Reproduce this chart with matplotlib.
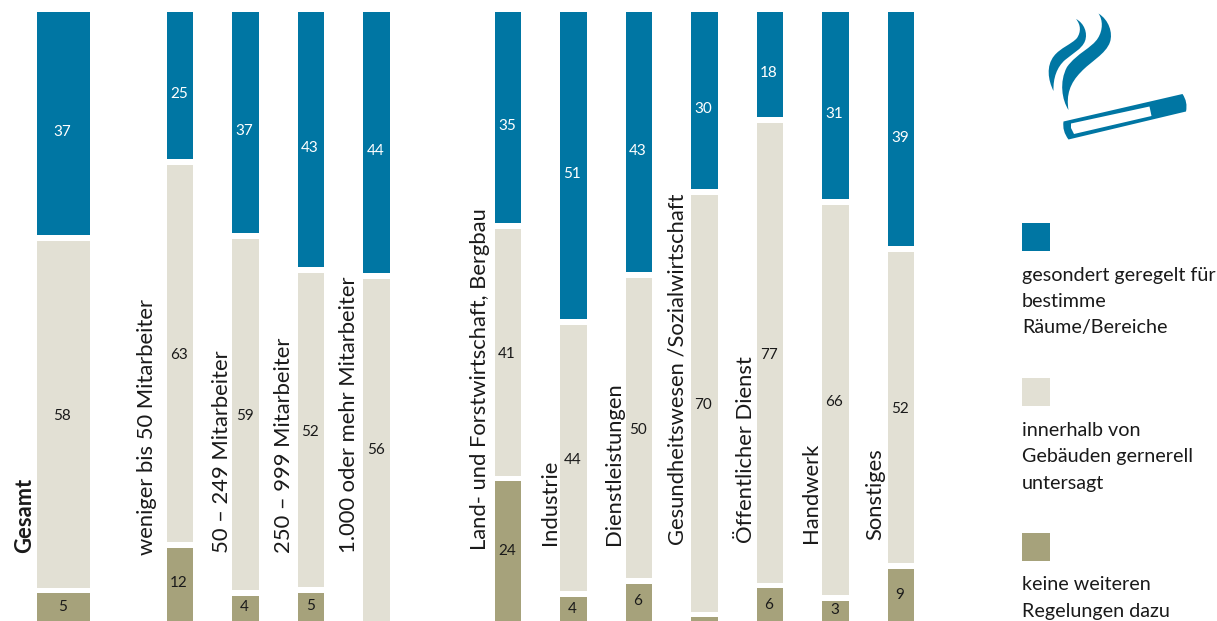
import matplotlib
matplotlib.use("Agg")
import matplotlib.pyplot as plt
from matplotlib.patches import PathPatch, Rectangle
from matplotlib.path import Path

plt.rcParams['font.family'] = ['Lato', 'DejaVu Sans']

categories = ["Gesamt", "weniger bis 50 Mitarbeiter", "50 – 249 Mitarbeiter", "250 – 999 Mitarbeiter",
              "1.000 oder mehr Mitarbeiter", "Land- und Forstwirtschaft, Bergbau", "Industrie",
              "Dienstleistungen", "Gesundheitswesen /Sozialwirtschaft", "Öffentlicher Dienst",
              "Handwerk", "Sonstiges"]

# printed numbers
gesondert_text = [37, 25, 37, 43, 44, 35, 51, 43, 30, 18, 31, 39]
untersagt_text = [58, 63, 59, 52, 56, 41, 44, 50, 70, 77, 66, 52]
keine_text = [5, 12, 4, 5, None, 24, 4, 6, None, 6, 3, 9]

# segment lengths, the last ones run past the crop
gesondert = [37.4, 24.8, 37.0, 42.6, 43.6, 35.4, 51.2, 43.5, 29.8, 17.9, 31.4, 39.2]
untersagt = [58.2, 63.3, 59.0, 52.9, 57.0, 41.7, 45.0, 50.6, 69.8, 76.9, 65.5, 52.4]
keine = [5.4, 12.5, 4.8, 5.4, 0, 24, 4.8, 6.5, 1.5, 6.5, 4, 9.5]

legend_labels = [["gesondert geregelt für", "bestimme", "Räume/Bereiche"],
                 ["innerhalb von", "Gebäuden gernerell", "untersagt"],
                 ["keine weiteren", "Regelungen dazu"]]

BLUE = "#0076a3"
LIGHT = "#e2e0d4"
OLIVE = "#a6a27b"

W, H = 1217, 621
PX_PER_PCT = 6.05
TOP_PX = 12
SLOT_PX = 65.55
FIRST_PX = 180.0
GAP = 0.95
TEXT_SHIFT = -1 / SLOT_PX

# bar centres in slots, 0 is the first size class
slots = [-1.78, 0, 1, 2, 3, 5, 6, 7, 8, 9, 10, 11]
widths = [0.808] + [0.404] * 11

fig = plt.figure(figsize=(W / 100, H / 100), dpi=100)
ax = fig.add_axes([0, 0, 1, 1])
ax.set_xlim(-FIRST_PX / SLOT_PX, (W - FIRST_PX) / SLOT_PX)
ax.set_ylim((H - TOP_PX) / PX_PER_PCT, -TOP_PX / PX_PER_PCT)
ax.axis("off")

for i, x in enumerate(slots):
    cum = 0
    series = [(gesondert[i], gesondert_text[i], BLUE, "white"),
              (untersagt[i], untersagt_text[i], LIGHT, "#1a1a1a"),
              (keine[i], keine_text[i], OLIVE, "#1a1a1a")]
    for j, (v, txt, col, tcol) in enumerate(series):
        start = cum + (GAP / 2 if j > 0 else 0)
        # no gap under the segment that leaves the picture
        is_last = j == 2 or keine[i] == 0 and j == 1
        end = cum + v - (0 if is_last else GAP / 2)
        if v > 0:
            ax.bar(x, end - start, bottom=start, width=widths[i], color=col, linewidth=0)
        if txt is not None:
            mid = cum + v / 2 + (1.2 if j == 0 else 0.3 if j == 1 else 0)
            ax.text(x + TEXT_SHIFT, mid, str(txt), color=tcol, fontsize=11, ha="center", va="center")
        cum += v

# overlay in pixels for labels, legend and icon
ov = fig.add_axes([0, 0, 1, 1])
ov.set_xlim(0, W)
ov.set_ylim(H, 0)
ov.axis("off")
ov.patch.set_alpha(0)

label_x = [31, 153, 228, 290, 355, 486, 556, 620, 683, 752, 817, 881]
label_y = [553, 555, 553, 553, 553, 550, 545, 545, 545, 543, 543, 540]
for i, name in enumerate(categories):
    ov.text(label_x[i], label_y[i], name, rotation=90, rotation_mode="anchor",
            ha="left", va="baseline", fontsize=15.8, color="#1a1a1a",
            fontweight="bold" if i == 0 else "normal")

legend_y = [223, 378, 533]
for y, col, lines in zip(legend_y, [BLUE, LIGHT, OLIVE], legend_labels):
    ov.add_patch(Rectangle((1022, y), 28, 28, color=col, linewidth=0))
    for k, line in enumerate(lines):
        ov.text(1022, y + 52 + k * 26.5, line, fontsize=14.2, color="#1a1a1a", ha="left", va="center")

# cigarette and smoke
C3, C4 = Path.CURVE3, Path.CURVE4
M, L, Z = Path.MOVETO, Path.LINETO, Path.CLOSEPOLY


def curve(start, *points):
    verts = [start] + list(points) + [start]
    codes = [M] + [C4] * len(points) + [Z]
    return Path(verts, codes)


cig = Path([(1063.5, 121.5), (1182.5, 94), (1188, 102), (1186, 111.5), (1068.5, 139.5), (1062, 131),
            (1063.5, 121.5), (1063.5, 121.5),
            (1071, 123.5), (1071, 128), (1074, 134), (1151.5, 116), (1149.5, 106.5), (1071, 123.5)],
           [M, L, C3, C3, L, C3, C3, Z, M, L, L, L, L, Z])
smoke1 = curve((1098.5, 13.5), (1109, 20), (1113, 33), (1110, 42), (1106, 54), (1090, 62), (1081, 72),
               (1070, 83), (1066, 95), (1068.5, 110), (1062, 100), (1059, 82), (1067, 67),
               (1077, 53), (1092, 48), (1098, 38), (1103, 30), (1103, 20), (1098.5, 13.5))
smoke2 = curve((1076, 19), (1084, 23), (1088, 33), (1085, 41), (1082, 49), (1072, 54), (1065, 60),
               (1057, 67), (1053, 78), (1053.5, 91), (1048, 80), (1046, 66), (1054, 56),
               (1060, 48), (1072, 44), (1077, 38), (1081, 32), (1081, 25), (1076, 19))
for shape in [cig, smoke1, smoke2]:
    ov.add_patch(PathPatch(shape, facecolor=BLUE, edgecolor="none"))

fig.savefig("out.png", dpi=100)
